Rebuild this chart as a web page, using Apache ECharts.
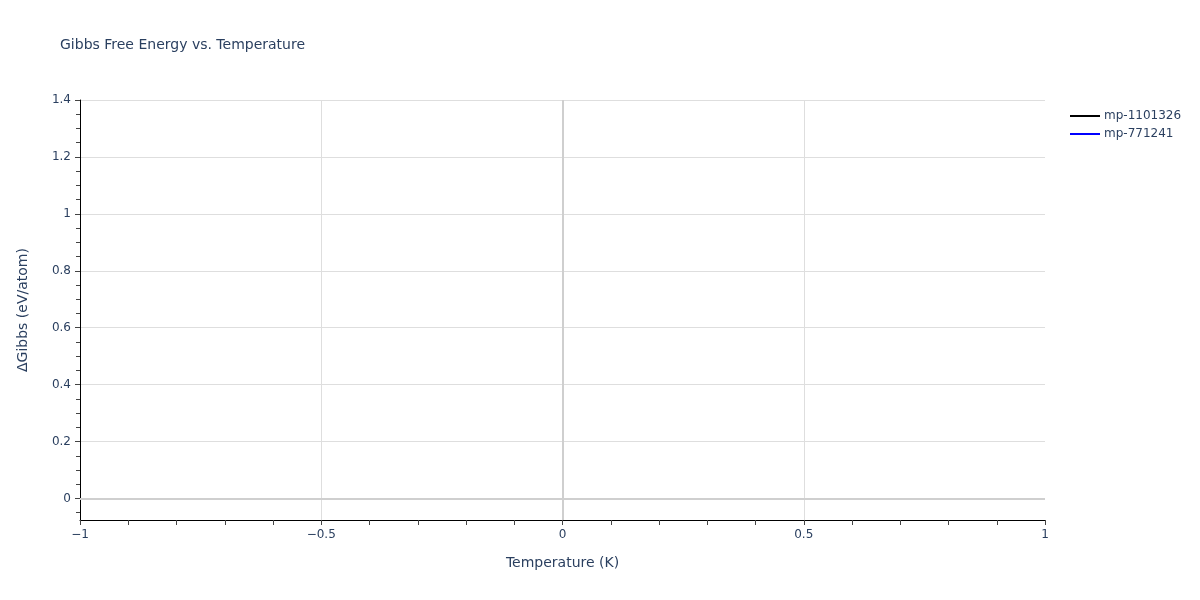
<!DOCTYPE html>
<html>
<head>
<meta charset="utf-8">
<script src="https://cdn.jsdelivr.net/npm/echarts@6/dist/echarts.min.js"></script>
<style>html,body{margin:0;padding:0;background:#fff;}#c{width:1200px;height:600px;}</style>
</head>
<body>
<div id="c"></div>
<script>
// Data (the reference shows no plotted points for either series)
var seriesNames = ['mp-1101326', 'mp-771241'];
var seriesColors = ['#000000', '#0000ff'];
var series1101326 = [];
var series771241 = [];
var xRange = [-1, 1];
var yRange = [-0.0757, 1.4];
var yMajorTicks = [0, 0.2, 0.4, 0.6, 0.8, 1, 1.2, 1.4];
var yMinorTicks = [-0.05, 0.05, 0.1, 0.15, 0.25, 0.3, 0.35, 0.45, 0.5, 0.55, 0.65, 0.7, 0.75, 0.85, 0.9, 0.95, 1.05, 1.1, 1.15, 1.25, 1.3, 1.35];
var zeroLinesX = [0];
var zeroLinesY = [0];

var FONT = 'DejaVu Sans';
var TXT = '#2a3f5f';
var chart = echarts.init(document.getElementById('c'));
function fmt(v){ return String(v).replace('-', '\u2212'); }

var option = {
  backgroundColor: '#fff',
  animation: false,
  textStyle: { fontFamily: FONT, color: TXT },
  title: {
    text: 'Gibbs Free Energy vs. Temperature',
    left: 60, top: 38, padding: 0,
    textStyle: { fontFamily: FONT, fontSize: 14, fontWeight: 'normal', color: TXT }
  },
  legend: {
    data: seriesNames,
    orient: 'vertical',
    left: 1070, top: 110, padding: 0,
    itemWidth: 30, itemHeight: 2, itemGap: 6,
    icon: 'rect',
    textStyle: { fontFamily: FONT, fontSize: 12, color: TXT, padding: [0,0,0,-1] }
  },
  grid: { left: 80, right: 155, top: 100, bottom: 80, containLabel: false },
  xAxis: {
    type: 'value',
    min: xRange[0], max: xRange[1], interval: 0.5,
    name: 'Temperature (K)', nameLocation: 'middle', nameGap: 36,
    nameTextStyle: { fontFamily: FONT, fontSize: 14, color: TXT },
    axisLine: { show: true, onZero: false, lineStyle: { color: '#000', width: 1 } },
    axisTick: { show: true, inside: false, length: 5, lineStyle: { color: '#444' } },
    minorTick: { show: true, splitNumber: 5, length: 5, lineStyle: { color: '#444' } },
    axisLabel: { fontFamily: FONT, fontSize: 12, color: TXT, margin: 9, formatter: fmt },
    splitLine: { show: true, lineStyle: { color: ['rgba(0,0,0,0)', '#dedede', '#dedede', '#dedede', 'rgba(0,0,0,0)'], width: 1 } },
    minorSplitLine: { show: false }
  },
  yAxis: [{
    type: 'value',
    min: yRange[0], max: yRange[1],
    name: '\u0394Gibbs (eV/atom)', nameLocation: 'middle', nameGap: 50,
    nameTextStyle: { fontFamily: FONT, fontSize: 14, color: TXT },
    axisLine: { show: true, onZero: false, lineStyle: { color: '#000', width: 1 } },
    axisTick: { show: true, inside: false, length: 5, customValues: yMajorTicks, lineStyle: { color: '#444' } },
    axisLabel: { fontFamily: FONT, fontSize: 12, color: TXT, margin: 9, customValues: yMajorTicks, formatter: fmt },
    splitLine: { show: true, lineStyle: { color: '#dedede', width: 1 } }
  }, {
    type: 'value',
    position: 'left',
    min: yRange[0], max: yRange[1],
    axisLine: { show: false, onZero: false },
    axisTick: { show: true, inside: false, length: 4, customValues: yMinorTicks, lineStyle: { color: '#444' } },
    axisLabel: { show: false },
    splitLine: { show: false }
  }],
  series: [
    { name: seriesNames[0], type: 'line', data: series1101326, showSymbol: false,
      itemStyle: { color: seriesColors[0] }, lineStyle: { color: seriesColors[0], width: 2 } },
    { name: seriesNames[1], type: 'line', data: series771241, showSymbol: false,
      itemStyle: { color: seriesColors[1] }, lineStyle: { color: seriesColors[1], width: 2 } },
    { name: 'zeroLines', type: 'line', data: [], silent: true,
      markLine: {
        silent: true, symbol: ['none', 'none'], label: { show: false },
        lineStyle: { color: '#cfcfcf', width: 2, type: 'solid' },
        emphasis: { disabled: true },
        data: zeroLinesX.map(function(v){ return { xAxis: v }; })
              .concat(zeroLinesY.map(function(v){ return { yAxis: v }; }))
      }, z: 1 }
  ]
};
chart.setOption(option);
</script>
</body>
</html>
